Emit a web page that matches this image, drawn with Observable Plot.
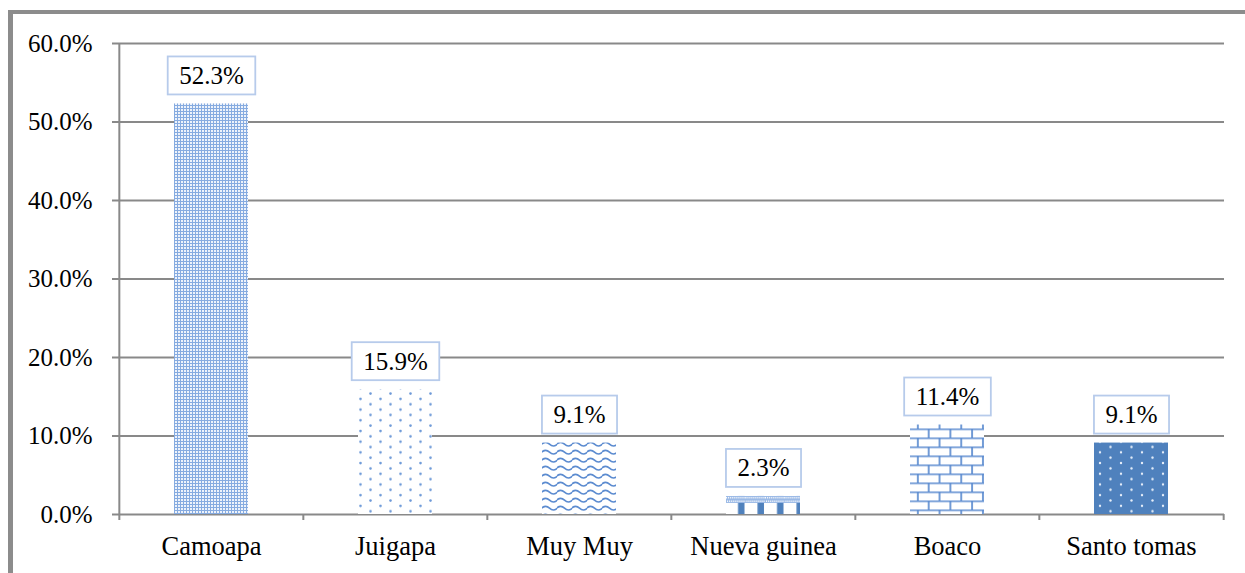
<!DOCTYPE html>
<html><head><meta charset="utf-8">
<script src="https://cdn.jsdelivr.net/npm/d3@7"></script>
<script src="https://cdn.jsdelivr.net/npm/@observablehq/plot@0.6"></script>
<style>
body{margin:0;background:#fff;}
#wrap{position:relative;width:1245px;height:573px;overflow:hidden;background:#fff;}
#frame{position:absolute;left:8px;top:10px;width:1300px;height:700px;border-top:4px solid #8c8c8c;border-left:5px solid #8c8c8c;pointer-events:none;}
</style></head><body><div id="wrap"><div id="frame"></div></div>
<script>
const categories = ["Camoapa","Juigapa","Muy Muy","Nueva guinea","Boaco","Santo tomas"];
const values = [52.3, 15.9, 9.1, 2.3, 11.4, 9.1];
const yTicks = [0, 10, 20, 30, 40, 50, 60];
const patternNames = ["checker","dots","wave","shingle","brick","solidDots"];

const data = categories.map((c, i) => ({cat: c, value: values[i], pat: patternNames[i]}));

const W = 1245, H = 573, ML = 118, MR = 21, MT = 43, MB = 59;
const PI = 0.6, PO = 0.3;
const step = (W - ML - MR) / (categories.length - PI + 2 * PO);
const GRID = "#898989";
const SERIF = "Liberation Serif";

const plot = Plot.plot({
  width: W, height: H,
  marginLeft: ML, marginRight: MR, marginTop: MT, marginBottom: MB,
  style: {fontFamily: SERIF, fontSize: "25px", color: "#000", background: "transparent", overflow: "visible"},
  x: {domain: categories, paddingInner: PI, paddingOuter: PO, label: null, tickSize: 0, tickPadding: 22},
  y: {domain: [0, 60], ticks: yTicks, tickFormat: d => d.toFixed(1) + "%", label: null, tickSize: 6, tickPadding: 20},
  color: {type: "identity"},
  marks: [
    Plot.ruleY(yTicks, {stroke: GRID, strokeWidth: 2}),
    Plot.ruleX([categories[0]], {x: d => d, dx: -step / 2, y1: 0, y2: 60, stroke: GRID, strokeWidth: 2}),
    Plot.ruleX(categories, {x: d => d, dx: -step / 2, y1: 0, y2: 0, insetBottom: -6, stroke: GRID, strokeWidth: 2}),
    Plot.ruleX([categories[categories.length - 1]], {x: d => d, dx: step / 2, y1: 0, y2: 0, insetBottom: -6, stroke: GRID, strokeWidth: 2}),
    Plot.barY(data, {x: "cat", y: "value", fill: d => `url(#pat-${d.pat})`}),
    Plot.text(data, {x: "cat", y: "value", text: d => d.value.toFixed(1) + "%", dy: -28, fontSize: 25, fontFamily: SERIF, fill: "#000"})
  ]
});

const wrap = document.getElementById("wrap");
wrap.insertBefore(plot, document.getElementById("frame"));
plot.style.position = "absolute";
plot.style.left = "0px";
plot.style.top = "0px";

const svg = d3.select(plot.tagName.toLowerCase() === "svg" ? plot : plot.querySelector("svg"));
svg.selectAll('g[aria-label="x-axis tick label"]').attr("font-size", 26.5).style("font-size", "26.5px");
svg.selectAll('g[aria-label="y-axis tick"]').attr("stroke", GRID).attr("stroke-width", 2);

const xs = plot.scale("x"), ys = plot.scale("y");
const BLUE = "#5b8bd0";
const defs = svg.insert("defs", ":first-child");

function pat(id, w, h, x0, y0) {
  return defs.append("pattern").attr("id", "pat-" + id).attr("patternUnits", "userSpaceOnUse")
    .attr("width", w).attr("height", h).attr("x", x0 || 0).attr("y", y0 || 0);
}
// checker
let p = pat("checker", 3, 3, xs.apply("Camoapa"), 0);
p.append("rect").attr("width", 3).attr("height", 3).attr("fill", "#86abe0");
p.append("rect").attr("x", 1).attr("y", 1).attr("width", 2).attr("height", 2).attr("fill", "#eef3fb");
// dots (staggered)
p = pat("dots", 20, 10.7, xs.apply("Juigapa"), 0);
p.append("rect").attr("width", 20).attr("height", 10.7).attr("fill", "#fff");
p.append("circle").attr("cx", 2.5).attr("cy", 3).attr("r", 1.3).attr("fill", "#6e9ad8");
p.append("circle").attr("cx", 12.5).attr("cy", 8.35).attr("r", 1.3).attr("fill", "#6e9ad8");
// wave
p = pat("wave", 15, 8, xs.apply("Muy Muy"), 0);
p.append("rect").attr("width", 15).attr("height", 8).attr("fill", "#fff");
p.append("path").attr("d", "M-0.5,4.2 Q3.75,0.6 7.5,4.2 T15.5,4.2").attr("fill", "none").attr("stroke", BLUE).attr("stroke-width", 1.6);
// shingle (Nueva guinea)
const ngTop = ys.apply(2.3);
p = pat("shingle", 19.5, 60, xs.apply("Nueva guinea"), ngTop);
p.append("rect").attr("width", 19.5).attr("height", 60).attr("fill", "#fff");
p.append("rect").attr("width", 19.5).attr("height", 7).attr("fill", "#9ab9e6");
for (let i = 0; i < 10; i++) for (let j = 0; j < 2; j++) {
  p.append("rect").attr("x", i * 2 + ((j % 2) ? 1 : 0)).attr("y", j * 3.5 + 1).attr("width", 1).attr("height", 1.5).attr("fill", "#fff");
}
p.append("rect").attr("x", 12).attr("y", 7).attr("width", 6.5).attr("height", 53).attr("fill", "#4f81bd");
// brick
const bkTop = ys.apply(11.4);
p = pat("brick", 21.7, 18, xs.apply("Boaco") - 4, bkTop - 14);
p.append("rect").attr("width", 21.7).attr("height", 18).attr("fill", "#fff");
p.append("path").attr("d", "M0,0.75H21.7M0,9.75H21.7M1,0V9.75M11.85,9.75V18").attr("fill", "none").attr("stroke", BLUE).attr("stroke-width", 1.7);
// solid with staggered dots
p = pat("solidDots", 21, 10.7, xs.apply("Santo tomas"), 0);
p.append("rect").attr("width", 21).attr("height", 10.7).attr("fill", "#4f81bd");
p.append("circle").attr("cx", 6).attr("cy", 3).attr("r", 1.2).attr("fill", "#e8f0fb");
p.append("circle").attr("cx", 16.5).attr("cy", 8.35).attr("r", 1.2).attr("fill", "#e8f0fb");

// data label boxes
const tg = svg.select('g[aria-label="text"]');
const boxes = svg.insert("g", function () { return tg.node(); });
tg.selectAll("text").each(function () {
  const b = this.getBBox();
  const ctm = this.getCTM();
  const sctm = svg.node().getCTM();
  const ox = (ctm ? ctm.e : 0) - (sctm ? sctm.e : 0), oy = (ctm ? ctm.f : 0) - (sctm ? sctm.f : 0);
  const cy = oy + b.y + b.height / 2;
  boxes.append("rect")
    .attr("x", ox + b.x - 11.5).attr("y", cy - 19)
    .attr("width", b.width + 23).attr("height", 38)
    .attr("fill", "#fff").attr("stroke", "#b7cbeb").attr("stroke-width", 1.8);
});
</script></body></html>
